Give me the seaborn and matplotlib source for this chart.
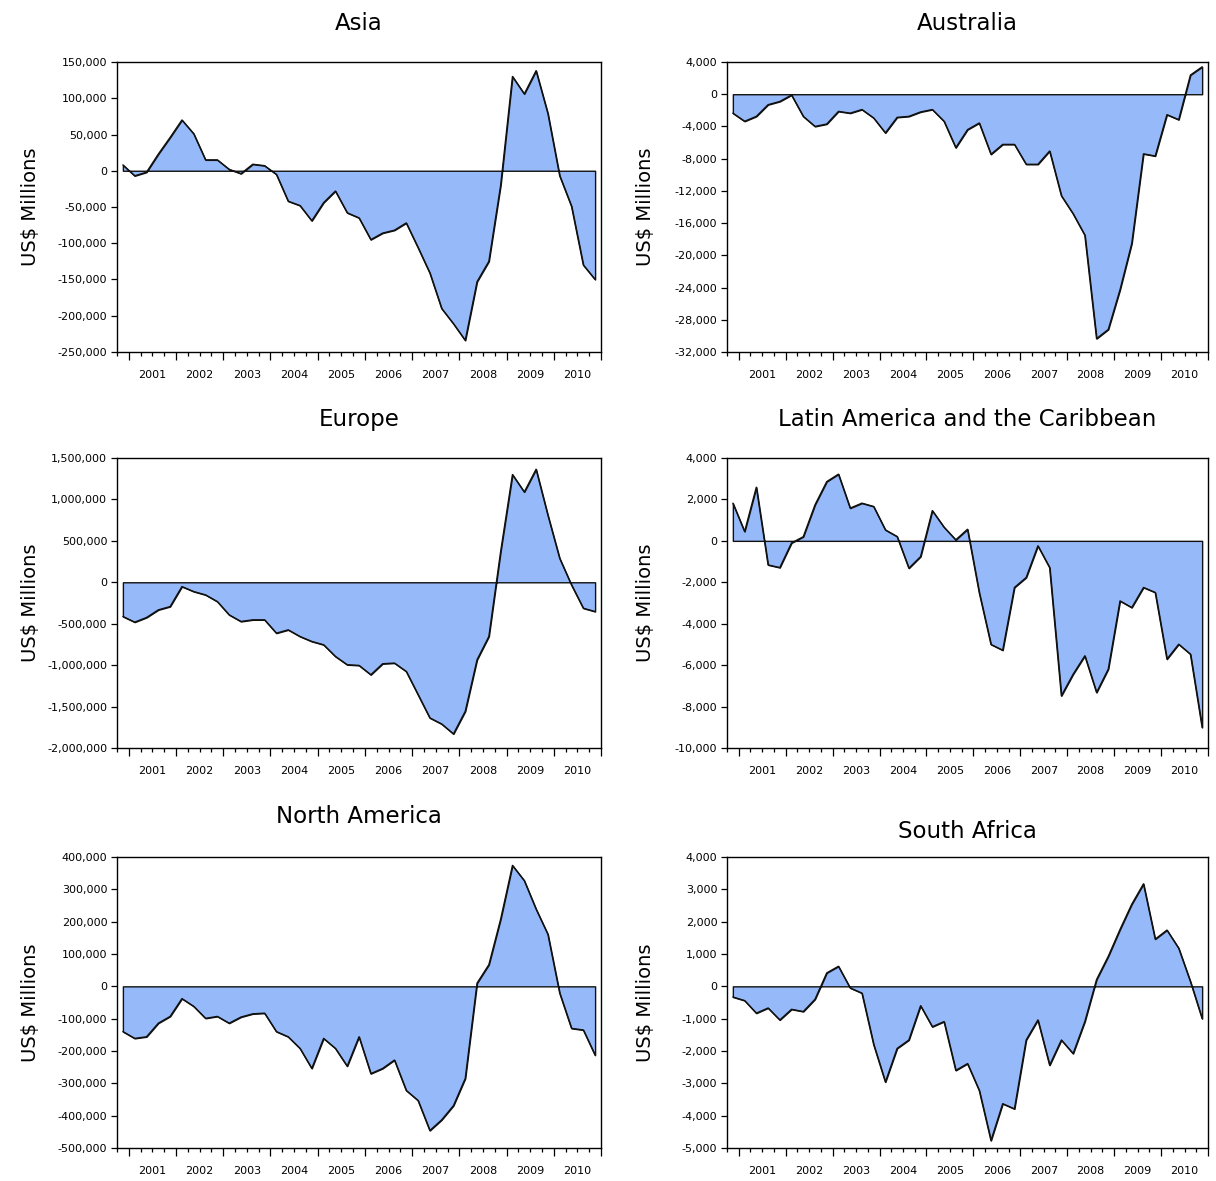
import numpy as np
import pandas as pd
import matplotlib
matplotlib.use("Agg")
import matplotlib.pyplot as plt
import seaborn as sns
from matplotlib.ticker import FuncFormatter

# ---------------- data (quarterly, US$ millions) ----------------
quarters = pd.period_range("2000Q4", "2010Q4", freq="Q")
year_labels = ["2001", "2002", "2003", "2004", "2005",
               "2006", "2007", "2008", "2009", "2010"]

titles = ["Asia", "Australia", "Europe",
          "Latin America and the Caribbean", "North America", "South Africa"]

asia = [8000, -7000, -2000, 23000, 46000, 70000, 51000, 15000, 15000, 2000,
        -4000, 9000, 7000, -5000, -42000, -48000, -69000, -44000, -28000, -58000,
        -65000, -95000, -86000, -82000, -72000, -106000, -141000, -190000, -211000, -234000,
        -153000, -125000, -20000, 130000, 106000, 138000, 79000, -7000, -49000, -130000,
        -150000]

australia = [-2350, -3360, -2750, -1300, -900, -100, -2750, -4000, -3700, -2130,
             -2350, -1900, -2950, -4800, -2870, -2750, -2200, -1900, -3360, -6640,
             -4400, -3570, -7460, -6230, -6230, -8700, -8700, -7050, -12600, -14840,
             -17500, -30340, -29200, -24270, -18530, -7400, -7670, -2540, -3160, 2380,
             3400]

europe = [-413000, -481000, -425000, -333000, -293000, -52000, -112000, -152000, -233000, -393000,
          -473000, -453000, -453000, -614000, -574000, -654000, -714000, -754000, -895000, -995000,
          -1003000, -1116000, -983000, -975000, -1076000, -1356000, -1637000, -1710000, -1830000, -1557000,
          -935000, -654000, 373000, 1300000, 1090000, 1364000, 810000, 289000, -32000, -313000,
          -353000]

latin_america = [1820, 450, 2590, -1160, -1290, -100, 200, 1740, 2860, 3220,
                 1580, 1820, 1660, 530, 210, -1320, -760, 1460, 660, 50,
                 560, -2500, -5000, -5280, -2250, -1770, -240, -1290, -7480, -6440,
                 -5550, -7320, -6190, -2900, -3220, -2250, -2490, -5710, -4990, -5470,
                 -9010]

north_america = [-140000, -161000, -156000, -114000, -93000, -38000, -62000, -99000, -93000, -114000,
                 -95000, -85000, -83000, -140000, -156000, -192000, -254000, -161000, -192000, -247000,
                 -156000, -270000, -254000, -228000, -322000, -353000, -446000, -413000, -369000, -285000,
                 10000, 67000, 208000, 374000, 327000, 239000, 161000, -21000, -130000, -135000,
                 -213000]

south_africa = [-330, -440, -830, -670, -1040, -710, -780, -400, 415, 620,
                -50, -210, -1800, -2960, -1920, -1660, -600, -1250, -1090, -2600,
                -2390, -3220, -4770, -3630, -3790, -1660, -1040, -2440, -1660, -2080,
                -1090, 210, 930, 1760, 2540, 3170, 1460, 1740, 1180, 150,
                -1000]

series = [asia, australia, europe, latin_america, north_america, south_africa]

y_ranges = [(-250000, 150000, 50000), (-32000, 4000, 4000), (-2000000, 1500000, 500000),
            (-10000, 4000, 2000), (-500000, 400000, 100000), (-5000, 4000, 1000)]

# ---------------- style ----------------
sns.set_theme(style="white")
plt.rcParams["font.family"] = ["DejaVu Sans"]
plt.rcParams["axes.unicode_minus"] = False
plt.rcParams["text.color"] = "black"
plt.rcParams["axes.labelcolor"] = "black"
plt.rcParams["xtick.color"] = "black"
plt.rcParams["ytick.color"] = "black"
plt.rcParams["axes.titlecolor"] = "black"

FILL = "#96B9F9"
EDGE = "#111111"

W, H = 1216, 1181
fig = plt.figure(figsize=(W / 100, H / 100), dpi=100)

# axes boxes in pixels: (left, top, right, bottom)
boxes = [(117, 62, 601, 352), (727, 62, 1208, 352),
         (117, 458, 601, 748), (727, 458, 1208, 748),
         (117, 857, 601, 1148), (727, 857, 1208, 1148)]
title_pads = [23, 23, 23, 23, 24.5, 13.5]

xpos = np.array([p.year + (p.quarter - 1) / 4 + 0.125 for p in quarters])

for i, (title, vals, (ymin, ymax, step)) in enumerate(zip(titles, series, y_ranges)):
    l, t, r, b = boxes[i]
    ax = fig.add_axes([l / W, 1 - b / H, (r - l) / W, (b - t) / H])
    df = pd.DataFrame({"t": xpos, "v": vals})

    ax.fill_between(df["t"], df["v"], 0, facecolor=FILL, edgecolor=EDGE,
                    linewidth=1.0, zorder=2)
    sns.lineplot(data=df, x="t", y="v", ax=ax, color=EDGE, linewidth=1.0, zorder=3)

    ax.set_xlim(2000.75, 2011.0)
    ax.set_ylim(ymin, ymax)
    ax.set_yticks(np.arange(ymin, ymax + step / 2, step))
    ax.yaxis.set_major_formatter(FuncFormatter(lambda v, p: f"{v:,.0f}"))

    years = np.arange(2001, 2012)
    ax.set_xticks(years)
    ax.set_xticklabels([""] * len(years))
    minor = [q for q in np.arange(2000.75, 2011.0, 0.25) if abs(q % 1) > 1e-9]
    ax.set_xticks(minor, minor=True)
    lab_map = {2001.5 + k: s for k, s in enumerate(year_labels)}

    def fmt(v, p, lab_map=lab_map):
        for k, s in lab_map.items():
            if abs(v - k) < 1e-6:
                return s
        return ""
    ax.xaxis.set_minor_formatter(FuncFormatter(fmt))

    ax.tick_params(axis="x", which="major", direction="out", length=6, width=0.9,
                   color="black", bottom=True)
    ax.tick_params(axis="x", which="minor", direction="out", length=3, width=0.9,
                   color="black", bottom=True, labelsize=8, pad=10)
    ax.tick_params(axis="y", which="major", direction="out", length=4, width=0.9,
                   color="black", left=True, labelsize=8, pad=3)

    for sp in ax.spines.values():
        sp.set_visible(True)
        sp.set_color("black")
        sp.set_linewidth(1.0)

    ax.set_xlabel("")
    ax.set_ylabel("US$ Millions", fontsize=14, color="black")
    ax.yaxis.set_label_coords(-0.16 if l < 600 else -0.15, 0.5)
    ax.set_title(title, fontsize=16.5, pad=title_pads[i], color="black")
    ax.set_facecolor("white")

fig.savefig("out.png", dpi=100, facecolor="white")
